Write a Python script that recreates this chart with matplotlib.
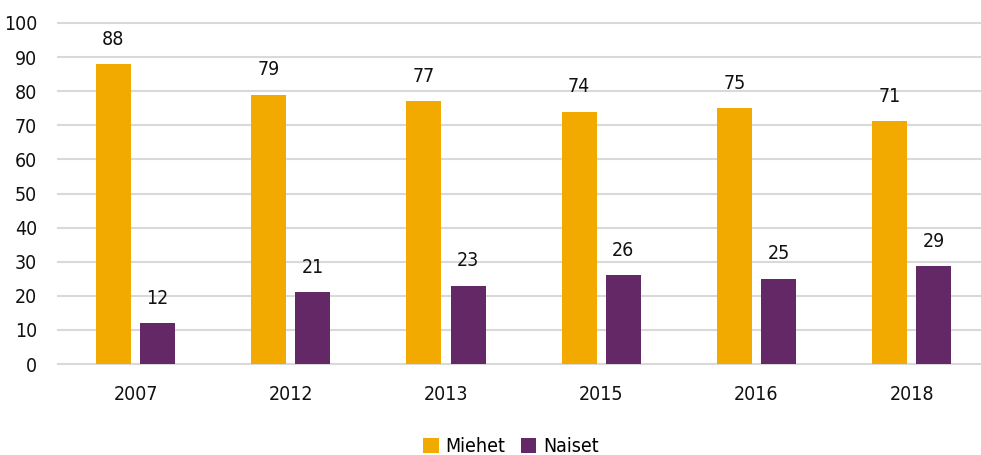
import matplotlib
matplotlib.use("Agg")
import matplotlib.pyplot as plt
import numpy as np
from matplotlib import font_manager

names = {(f.name, f.stretch) for f in font_manager.fontManager.ttflist}
has_cond = any(n == "DejaVu Sans" and s in ("condensed", 300, "semi-condensed") for n, s in names)
plt.rcParams['font.family'] = ["DejaVu Sans"]
if has_cond:
    plt.rcParams['font.stretch'] = "condensed"

years = ["2007", "2012", "2013", "2015", "2016", "2018"]
miehet = [88, 79, 77, 74, 75, 71.3]
naiset = [12, 21, 23, 26, 25, 28.7]
miehet_labels = ["88", "79", "77", "74", "75", "71"]
naiset_labels = ["12", "21", "23", "26", "25", "29"]

c_m = "#F2AA00"
c_n = "#642867"
fs = 14

fig = plt.figure(figsize=(9.81, 4.55), dpi=100)
ax = fig.add_axes([58/981, 1-364/455, 923/981, 341/455])

x = np.arange(len(years))
w = 0.225
off = 0.1425
b1 = ax.bar(x - off, miehet, w, color=c_m, label="Miehet", zorder=3)
b2 = ax.bar(x + off, naiset, w, color=c_n, label="Naiset", zorder=3)

for bars, labs in ((b1, miehet_labels), (b2, naiset_labels)):
    for rect, lab in zip(bars, labs):
        ax.annotate(lab, (rect.get_x() + rect.get_width()/2, rect.get_height()),
                    xytext=(0, 11), textcoords="offset points", ha="center", va="bottom",
                    fontsize=fs, color="#111111")

ax.set_xlim(-0.5, -0.5 + 923/155.2)
ax.set_ylim(0, 100)
ax.set_yticks(np.arange(0, 101, 10))
ax.set_xticks(x)
ax.set_xticklabels(years)
ax.grid(axis="y", color="#D9D9D9", linewidth=1.5, zorder=0)
for gl in ax.get_ygridlines():
    gl.set_clip_on(False)
ax.set_axisbelow(True)
for s in ax.spines.values():
    s.set_visible(False)
ax.tick_params(axis="both", length=0, labelsize=fs, colors="#111111")
ax.tick_params(axis="y", pad=15)
ax.tick_params(axis="x", pad=15)

leg = fig.legend(handles=[b1, b2], labels=["Miehet", "Naiset"], loc="center",
                 bbox_to_anchor=(511/981, 1-447/455), ncol=2, frameon=False,
                 fontsize=fs, handlelength=0.8, handleheight=0.8, handletextpad=0.35,
                 columnspacing=0.8)

fig.savefig("out.png", dpi=100)
